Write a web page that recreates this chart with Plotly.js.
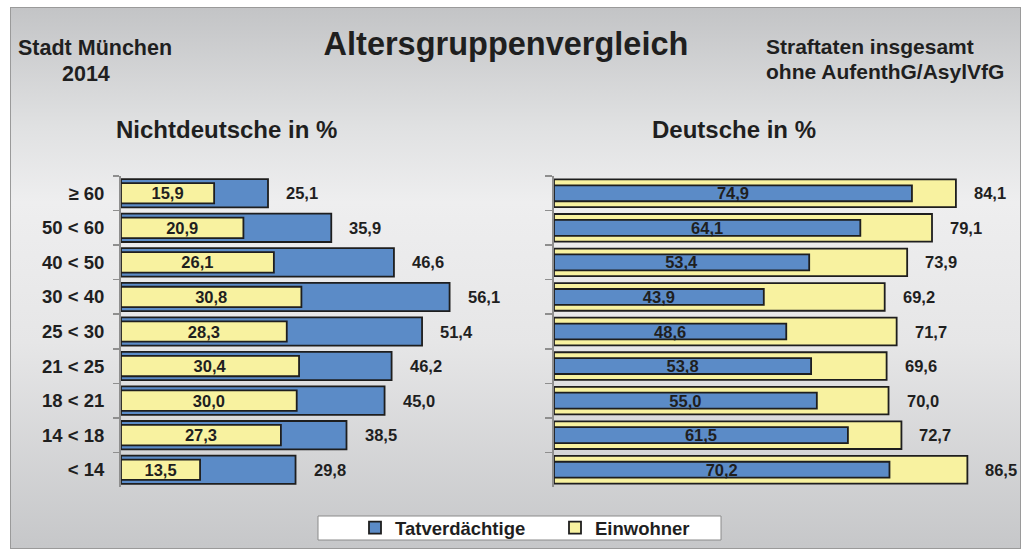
<!DOCTYPE html>
<html>
<head>
<meta charset="utf-8">
<script src="https://cdn.plot.ly/plotly-3.0.1.min.js"></script>
<style>
  html,body{margin:0;padding:0;background:#fff;}
  #frame{position:absolute;left:10px;top:7px;width:1009px;height:540px;border:1px solid #9a9a9a;
    background:linear-gradient(to bottom,#c3c4c6 0%,#e0e1e2 22%,#eeeeef 36%,#e6e6e7 62%,#c6c7c9 100%);}
  #chart{position:absolute;left:0;top:0;width:1024px;height:551px;}
</style>
</head>
<body>
<div id="frame"></div>
<div id="chart"></div>
<script>
// ===== data =====
const ageGroups = ['≥ 60','50 < 60','40 < 50','30 < 40','25 < 30','21 < 25','18 < 21','14 < 18','< 14'];
const ndTatverdaechtige = [25.1, 35.9, 46.6, 56.1, 51.4, 46.2, 45.0, 38.5, 29.8];
const ndEinwohner       = [15.9, 20.9, 26.1, 30.8, 28.3, 30.4, 30.0, 27.3, 13.5];
const deTatverdaechtige = [74.9, 64.1, 53.4, 43.9, 48.6, 53.8, 55.0, 61.5, 70.2];
const deEinwohner       = [84.1, 79.1, 73.9, 69.2, 71.7, 69.6, 70.0, 72.7, 86.5];

// ===== helpers =====
const W = 1024, H = 551;
const BLUE = '#5b8bc7', YELLOW = '#f8f2a0', EDGE = '#1e1e1e', INK = '#1f1f1f';
const FONT = 'Liberation Sans, Arial, sans-serif';
function px(x){ return x / W; }
function py(y){ return 1 - y / H; }
function de(v){ return v.toFixed(1).replace('.', ','); }

function barTrace(vals, name, color, width, xa, ya, showleg, inner){
  return {
    type:'bar', orientation:'h', x: vals, y: ageGroups, name, width,
    xaxis: xa, yaxis: ya, showlegend: showleg, legendgroup: name,
    marker:{color, line:{color:EDGE, width:1.8}},
    text: inner ? vals.map(de) : undefined,
    textposition: inner ? 'inside' : 'none',
    insidetextanchor:'middle', textangle:0, constraintext:'none',
    textfont:{family:FONT, size:16.5, color:INK, weight:700},
    hoverinfo:'x+name'
  };
}

const traces = [
  barTrace(ndTatverdaechtige, 'Tatverdächtige', BLUE, 0.82, 'x', 'y', true, false),
  barTrace(ndEinwohner, 'Einwohner', YELLOW, 0.59, 'x', 'y', true, true),
  barTrace(deEinwohner, 'Einwohner', YELLOW, 0.80, 'x2', 'y2', false, false),
  barTrace(deTatverdaechtige, 'Tatverdächtige', BLUE, 0.46, 'x2', 'y2', false, true)
];

// outer value labels right of the wide bars
function outerLabels(vals, xref, yref){
  return vals.map((v,i)=>({
    x: v, y: ageGroups[i], xref, yref, xanchor:'left', yanchor:'middle', xshift:16,
    text: de(v), showarrow:false, font:{family:FONT, size:16.5, color:INK, weight:700}
  }));
}

function label(text, x, y, size, anchor){
  return {text, x:px(x), y:py(y), xref:'paper', yref:'paper', xanchor:anchor||'center', yanchor:'middle',
    showarrow:false, font:{family:FONT, size, color:INK, weight:700}};
}

const yBase = {
  type:'category', categoryorder:'array', categoryarray: ageGroups, autorange:'reversed',
  domain:[py(487), py(176)], showline:true, linecolor:'#8e8e8e', linewidth:2,
  ticks:'outside', tickson:'boundaries', ticklen:6, tickwidth:1.5, tickcolor:'#8e8e8e',
  showgrid:false, zeroline:false, fixedrange:true
};
const xBase = {showline:false, showticklabels:false, showgrid:false, zeroline:false, ticks:'', fixedrange:true};

const layout = {
  width: W, height: H,
  margin:{l:0, r:0, t:0, b:0},
  paper_bgcolor:'rgba(0,0,0,0)', plot_bgcolor:'rgba(0,0,0,0)',
  font:{family:FONT, color:INK, weight:700},
  separators:',.',
  barmode:'overlay',
  title:{text:'Altersgruppenvergleich', x:px(506), xanchor:'center', y:py(44), yanchor:'middle', yref:'paper',
    font:{family:FONT, size:32.5, color:INK, weight:700}},
  xaxis: Object.assign({}, xBase, {domain:[px(121), px(531)], range:[0,70], anchor:'y'}),
  yaxis: Object.assign({}, yBase, {anchor:'x', ticklabelstandoff:11, tickfont:{family:FONT, size:18.5, color:INK, weight:700}}),
  xaxis2: Object.assign({}, xBase, {domain:[px(554), px(1008)], range:[0,95], anchor:'y2'}),
  yaxis2: Object.assign({}, yBase, {anchor:'x2', showticklabels:false, ticklen:7}),
  showlegend:true,
  legend:{orientation:'h', x:px(355), xanchor:'left', y:py(528), yanchor:'middle',
    bgcolor:'rgba(0,0,0,0)', borderwidth:0, entrywidth:155, entrywidthmode:'pixels',
    traceorder:'normal', font:{family:FONT, size:18.5, color:INK, weight:700}},
  shapes:[
    {type:'rect', xref:'paper', yref:'paper', x0:px(318), x1:px(721), y0:py(540), y1:py(516),
     fillcolor:'#ffffff', line:{color:'#8a8a8a', width:1}, layer:'below'}
  ],
  annotations: [
    label('Stadt München', 94.5, 47.5, 21.5),
    label('2014', 86, 74.5, 21.5),
    label('Straftaten insgesamt', 764, 46.5, 21, 'left'),
    label('ohne AufenthG/AsylVfG', 764, 71.5, 21, 'left'),
    label('Nichtdeutsche in %', 226, 129, 24),
    label('Deutsche in %', 734, 129, 24)
  ].concat(outerLabels(ndTatverdaechtige, 'x', 'y'), outerLabels(deEinwohner, 'x2', 'y2'))
};

Plotly.newPlot('chart', traces, layout, {displayModeBar:false, staticPlot:true});
</script>
</body>
</html>
